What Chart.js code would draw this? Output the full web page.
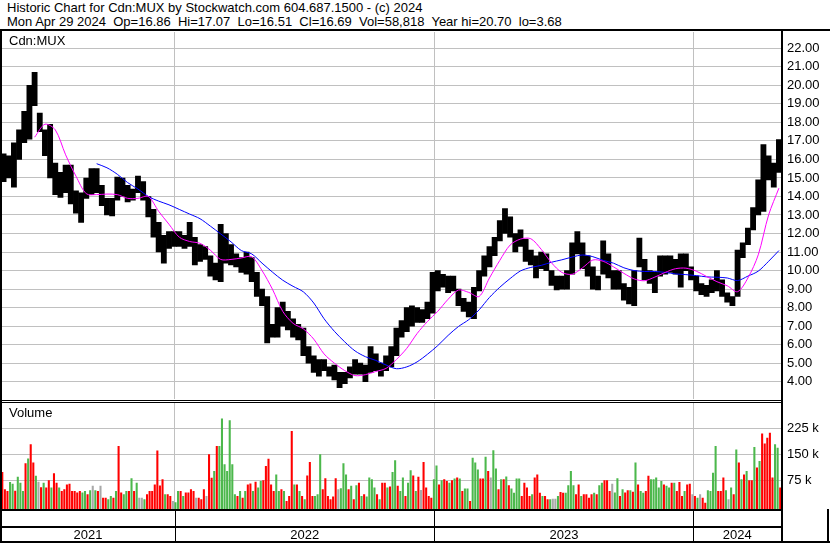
<!DOCTYPE html>
<html>
<head>
<meta charset="utf-8">
<script src="https://cdn.jsdelivr.net/npm/chart.js@4.4.1/dist/chart.umd.min.js"></script>
<style>
  body { margin: 0; background: #fff; }
  #wrap { position: relative; width: 830px; height: 543px; overflow: hidden; background: #fff;
          font-family: "Liberation Sans", Arial, sans-serif; font-size: 13px; color: #000; }
  .pane { position: absolute; left: 0; width: 830px; overflow: hidden; }
  .pane canvas { position: absolute; left: 0; }
  .txt { position: absolute; white-space: pre; line-height: 14px; }
  .ln { position: absolute; background: #000; }
  .grid { position: absolute; height: 1px; background: #c0c0c0; }
</style>
</head>
<body>
<div id="wrap">
  <div class="pane" style="top:32px;height:367px">
    <canvas id="priceChart" width="830" height="395" style="top:-14px"></canvas>
  </div>
  <div class="pane" style="top:403px;height:140px">
    <canvas id="volChart" width="830" height="154" style="top:-14px"></canvas>
  </div>

  <div class="txt" style="left:7px;top:1px">Historic Chart for Cdn:MUX by Stockwatch.com 604.687.1500 - (c) 2024
Mon Apr 29 2024  Op=16.86  Hi=17.07  Lo=16.51  Cl=16.69  Vol=58,818  Year hi=20.70  lo=3.68</div>
  <div class="txt" style="left:9px;top:34px">Cdn:MUX</div>
  <div class="txt" style="left:9px;top:406px">Volume</div>

  <div class="ln" style="left:0;top:29px;width:830px;height:2px"></div>
  <div class="ln" style="left:0;top:29px;width:2px;height:514px"></div>
  <div class="ln" style="left:781px;top:29px;width:2px;height:514px"></div>
  <div class="ln" style="left:827px;top:509px;width:2px;height:34px"></div>
  <div class="ln" style="left:0;top:400px;width:783px;height:1px"></div>
  <div class="ln" style="left:0;top:402px;width:783px;height:1px"></div>
  <div class="ln" style="left:0;top:509px;width:783px;height:2px"></div>
  <div class="ln" style="left:0;top:526px;width:783px;height:2px"></div>
  <div class="ln" style="left:0;top:541px;width:830px;height:2px"></div>
</div>

<script>
// weekly price bars, Apr 30 2021 .. Apr 29 2024 (151 weeks)
let yearLabels = ['2021', '2022', '2023', '2024'];
let yearStartWeek = [33.66, 83.83, 133.97];
let priceTicks = [4,5,6,7,8,9,10,11,12,13,14,15,16,17,18,19,20,21,22];
let volTicks = [75, 150, 225];

let weekHigh = [
  16.3,16.2,16.9,17.6,18.6,20.0,20.7,18.5,17.6,17.9,
  15.8,15.3,15.7,15.7,14.3,14.2,15.0,15.5,15.5,14.6,
  13.9,13.9,15.05,15.0,14.6,14.4,15.1,14.8,14.0,13.3,
  12.6,11.9,12.1,12.1,12.1,11.9,12.6,11.8,11.4,11.3,
  10.8,10.4,12.5,12.0,11.4,10.9,10.7,11.0,10.7,9.9,
  9.0,8.6,7.1,8.0,8.3,7.8,7.4,7.1,6.9,5.9,
  5.4,5.2,5.2,4.8,4.9,4.5,4.5,4.8,5.2,5.0,
  4.9,5.9,5.5,5.0,5.4,5.9,6.9,7.3,8.0,8.1,
  8.0,7.9,8.3,9.9,10.0,9.8,9.7,9.7,9.0,8.5,
  8.3,9.1,10.0,10.8,11.3,11.8,12.7,13.35,12.9,12.0,
  12.2,11.7,11.1,10.8,11.0,10.9,10.0,9.7,9.7,10.0,
  11.5,12.1,11.5,10.8,10.2,9.7,11.6,10.9,10.0,10.0,
  9.3,9.1,10.0,11.75,10.6,10.0,9.9,10.8,10.8,10.8,
  10.6,10.9,10.9,10.2,9.7,9.3,9.2,9.5,10.0,9.5,
  8.8,8.6,11.1,11.5,12.3,13.4,14.9,16.8,16.2,15.8,
  17.07
];
let weekLow = [
  14.8,15.0,14.5,16.0,16.9,17.1,18.9,17.5,16.2,15.0,
  14.1,13.95,14.2,13.6,13.1,12.6,13.9,14.1,14.2,13.5,
  13.0,12.95,13.8,14.0,13.7,13.8,14.2,13.8,12.9,11.8,
  11.0,10.4,11.2,11.3,11.3,11.2,11.3,10.3,10.5,10.6,
  9.7,9.5,9.4,10.4,10.3,10.2,9.9,9.8,9.4,8.6,
  8.1,6.1,6.4,6.4,7.0,6.8,6.4,6.25,5.4,5.0,
  4.5,4.3,4.6,4.3,4.1,3.68,3.9,4.2,4.4,4.4,
  4.0,4.5,4.6,4.3,4.6,4.8,5.4,6.4,6.7,7.0,
  7.2,7.2,7.4,7.7,8.9,9.1,8.8,8.9,8.1,7.8,
  7.5,7.4,8.9,9.7,10.2,10.8,11.6,12.0,11.8,11.0,
  11.3,10.5,10.3,9.6,10.1,10.0,9.2,8.95,9.0,9.0,
  9.8,10.9,10.1,9.7,9.0,8.95,9.8,9.6,9.0,9.0,
  8.4,8.2,8.1,10.2,9.5,9.3,8.8,9.7,9.8,9.9,
  9.8,9.1,10.0,9.5,8.9,8.7,8.6,8.8,8.9,8.6,
  8.3,8.1,8.6,10.7,11.4,12.2,13.0,13.2,14.9,14.5,
  15.3
];

// volume in thousands, two readings per week
let halfVol = [
  99,49, 44,70, 65,45, 85,68, 44,124, 138,179, 126,88, 71,55, 68,54, 75,54,
  95,68, 54,44, 49,63, 65,44, 44,40, 44,40, 44,35, 46,59, 46,44, 59,25,
  25,20, 30,25, 44,174, 40,35, 44,44, 81,44, 68,25, 25,20, 35,44, 44,63,
  161,60, 78,35, 35,30, 15,12, 44,44, 30,40, 40,49, 44,25, 25,20, 49,30,
  150,82, 102,174, 174,253, 121,102, 248,121, 35,30, 44,25, 44,63, 66,44, 71,54,
  73,75, 116,137, 63,44, 92,44, 49,44, 15,30, 217,63, 63,44, 30,20, 89,128,
  30,30, 35,150, 49,81, 30,20, 28,81, 49,52, 124,92, 49,59, 20,61, 68,30,
  35,28, 83,78, 54,35, 20,68, 68,54, 57,99, 133,59, 44,83, 30,68, 104,89,
  44,85, 47,128, 54,30, 25,78, 118,63, 75,78, 73,68, 75,80, 83,80, 44,51,
  51,15, 140,126, 106,80, 80,143, 102,83, 162,109, 49,78, 78,86, 61,51, 39,80,
  80,30, 68,54, 30,35, 83,92, 39,30, 30,20, 20,22, 22,30, 41,39, 39,61,
  102,61, 35,63, 30,35, 35,25, 35,39, 35,61, 68,75, 75,44, 65,40, 81,30,
  49,40, 46,46, 42,126, 63,44, 39,44, 88,78, 78,83, 54,73, 63,59, 54,68,
  68,44, 70,30, 44,63, 65,35, 30,25, 35,25, 10,46, 44,97, 174,44, 44,83,
  46,20, 54,35, 164,126, 78,92, 102,75, 75,171, 112,131, 210,181, 198,212, 83,179,
  169,54
];
// u = close up (green), d = close down (red), n = unchanged (grey)
let halfDir = (
  'dd du ud uu ud ud du nd ud du ' +
  'dd ud dd dd dd du ud un ud nd ' +
  'du ud ud du ud ud un nu dd dd ' +
  'dd du dd nu ud ud dd dn dd dn ' +
  'dd ud uu uu uu ud ud ud du du ' +
  'ud dd dd uu du dd du du du dd ' +
  'du uu dd dd dd nu uu du du du ' +
  'du uu ud ud du du ud uu du ud ' +
  'ud nd dd du ud ud du du du du ' +
  'ud uu ud du dn uu du du du uu ' +
  'ud dd du dd du dd un nu dd uu ' +
  'uu dd ud dd du du ud dd nu ud ' +
  'ud du du du ud du uu uu du ud ' +
  'ud dd ud dn du nd du uu ud dd ' +
  'un ud ud ud ud du du dd dd du ' +
  'ud'
).replace(/ /g, '').split('');

// moving averages, read every second week
let maWeeks = [6,8,10,12,14,16,18,20,22,24,26,28,30,32,34,36,38,40,42,44,46,48,50,52,54,56,58,60,62,64,
  66,68,70,72,74,76,78,80,82,84,86,88,90,92,94,96,98,100,102,104,106,108,110,112,114,116,118,120,122,124,
  126,128,130,132,134,136,138,140,142,144,146,148,150];
let maShort = [17.2,17.9,17.6,16.25,15.1,14.15,14.1,14.13,14.1,13.9,13.9,14.0,13.2,12.5,11.8,11.57,11.47,11.1,10.6,10.6,
  10.68,10.75,10.0,9.0,7.8,7.15,6.85,6.3,5.5,5.0,4.6,4.33,4.38,4.55,4.72,5.2,5.8,6.6,7.25,7.8,
  8.45,8.95,8.82,8.6,9.6,10.55,11.38,11.7,11.72,11.15,10.42,9.9,9.8,10.15,10.57,10.5,10.2,9.85,9.55,9.45,
  9.65,9.9,10.1,10.13,9.97,9.68,9.4,9.18,8.86,9.6,10.85,13.0,14.45];
let maLong = [null,null,null,null,null,null,15.77,15.55,15.2,14.75,14.4,14.0,13.75,13.55,13.3,13.05,12.8,12.4,11.98,11.55,
  11.08,10.9,10.4,9.92,9.48,9.15,8.85,8.25,7.4,6.72,6.15,5.66,5.35,5.15,4.9,4.7,4.8,5.07,5.48,5.95,
  6.5,6.98,7.35,7.88,8.55,9.1,9.57,9.98,10.17,10.28,10.45,10.58,10.73,10.84,10.75,10.55,10.4,10.15,10.0,9.95,
  9.95,9.9,9.82,9.78,9.73,9.66,9.64,9.6,9.46,9.7,9.97,10.5,11.08];

let fontFam = '"Liberation Sans", Arial, sans-serif';
let gridGray = '#c0c0c0';
let dirColor = { u: '#4cb84c', d: '#ff0000', n: '#a8a8a8' };
let volMin = -7.8;

function makeX() {
  return {
    type: 'linear', min: 0, max: 150.9, offset: false,
    grid: { color: gridGray, drawTicks: false, offset: false },
    border: { display: false },
    ticks: { display: false },
    afterBuildTicks: s => { s.ticks = yearStartWeek.map(v => ({ value: v })); },
    afterFit: s => { s.height = 0; }
  };
}

function makeY(min, max, ticks, fmt) {
  return {
    position: 'right', min: min, max: max,
    grid: { color: gridGray, drawTicks: false, offset: false },
    border: { display: false },
    ticks: { color: '#000', padding: 6, autoSkip: false, font: { family: fontFam, size: 13 }, callback: fmt },
    afterBuildTicks: s => { s.ticks = ticks.map(v => ({ value: v })); },
    afterFit: s => { s.width = 49; }
  };
}

let priceChart = new Chart(document.getElementById('priceChart'), {
  type: 'bar',
  data: {
    datasets: [
      {
        type: 'line', data: maWeeks.map((w, i) => ({ x: w + 0.5, y: maShort[i] })),
        borderColor: '#ff00ff', borderWidth: 1, pointRadius: 0, tension: 0.3, order: 0
      },
      {
        type: 'line', data: maWeeks.map((w, i) => ({ x: w + 0.5, y: maLong[i] })),
        borderColor: '#0000ff', borderWidth: 1, pointRadius: 0, tension: 0.3, order: 1
      },
      {
        type: 'bar', data: weekHigh.map((h, i) => ({ x: i + 0.5, y: [weekLow[i], h] })),
        backgroundColor: '#000', barPercentage: 1, categoryPercentage: 1, order: 2
      }
    ]
  },
  options: {
    responsive: false, animation: false,
    layout: { padding: { left: 1, right: 0, top: 0, bottom: 0 } },
    plugins: { legend: { display: false }, tooltip: { enabled: false } },
    scales: {
      x: makeX(),
      y: makeY(3.055, 22.891, priceTicks, v => v.toFixed(2))
    }
  }
});

// year strip under the volume panel
let yearStrip = {
  id: 'yearStrip',
  afterDraw(chart) {
    let { ctx, chartArea, scales } = chart;
    let x = scales.x;
    let edges = [chartArea.left, ...yearStartWeek.map(v => x.getPixelForValue(v)), chartArea.right];
    ctx.save();
    ctx.fillStyle = '#000';
    yearStartWeek.forEach(v => {
      ctx.fillRect(Math.round(x.getPixelForValue(v)), chartArea.bottom, 1, 32);
    });
    ctx.font = '13px ' + fontFam;
    ctx.textAlign = 'center';
    ctx.textBaseline = 'alphabetic';
    yearLabels.forEach((t, i) => {
      ctx.fillText(t, (edges[i] + edges[i + 1]) / 2, chartArea.bottom + 30);
    });
    ctx.restore();
  }
};

let volChart = new Chart(document.getElementById('volChart'), {
  type: 'bar',
  data: {
    datasets: [{
      data: halfVol.map((v, i) => ({ x: i * 0.5 + 0.25, y: v })),
      backgroundColor: halfDir.map(d => dirColor[d]),
      base: volMin, barPercentage: 0.8, categoryPercentage: 1
    }]
  },
  options: {
    responsive: false, animation: false,
    layout: { padding: { left: 1, right: 0, top: 0, bottom: 34 } },
    plugins: { legend: { display: false }, tooltip: { enabled: false } },
    scales: {
      x: makeX(),
      y: makeY(volMin, 298.6, volTicks, v => v + ' k')
    }
  },
  plugins: [yearStrip]
});

// horizontal grid lines under the (transparent) canvases, placed from each chart's value scale
function addGridLines(chart, ticks, canvasTop) {
  let wrap = document.getElementById('wrap');
  let y = chart.scales.y;
  let area = chart.chartArea;
  ticks.forEach(v => {
    let d = document.createElement('div');
    d.className = 'grid';
    d.style.left = Math.round(area.left) + 'px';
    d.style.width = Math.round(area.right - area.left) + 'px';
    d.style.top = Math.floor(canvasTop + y.getPixelForValue(v)) + 'px';
    wrap.insertBefore(d, wrap.firstChild);
  });
}
addGridLines(priceChart, priceTicks, 32 - 14);
addGridLines(volChart, volTicks, 403 - 14);
</script>
</body>
</html>
